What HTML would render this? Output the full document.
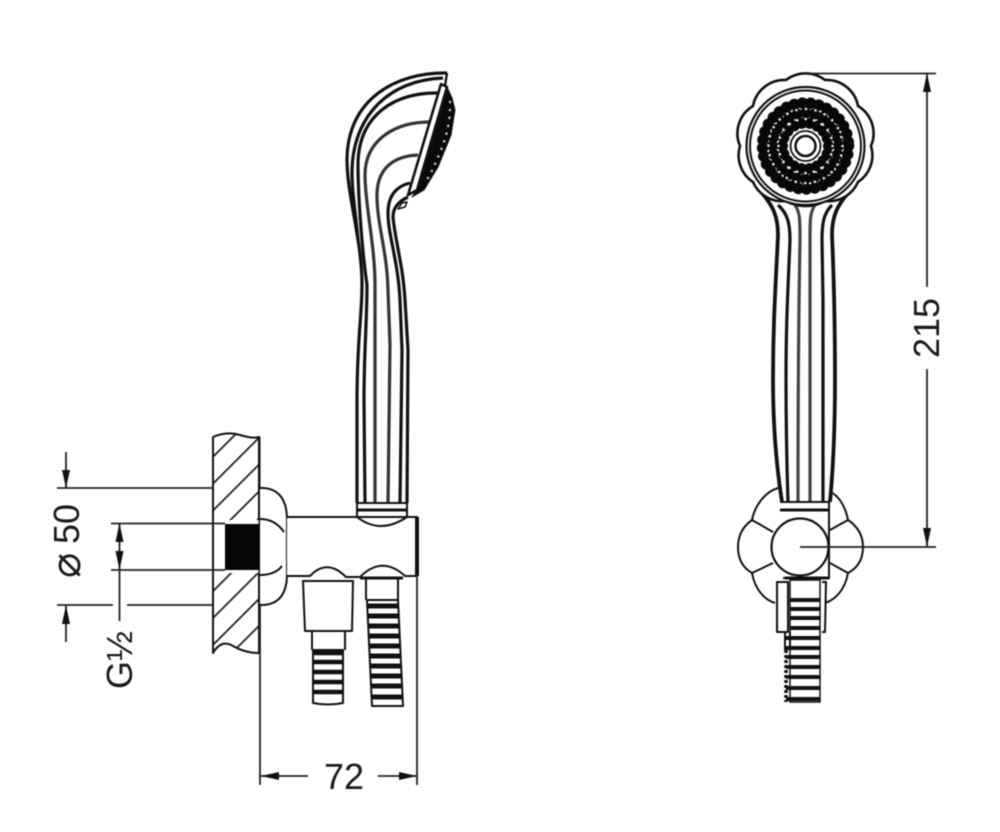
<!DOCTYPE html>
<html><head><meta charset="utf-8"><title>Hand shower with wall bracket</title>
<style>html,body{margin:0;padding:0;background:#fff}svg{display:block;filter:blur(.45px)}text{font-family:"Liberation Sans",sans-serif;font-size:36px;fill:#1a1a1a}</style></head>
<body>
<svg width="1000" height="832" viewBox="0 0 1000 832" xmlns="http://www.w3.org/2000/svg">
<defs>
<pattern id="h" width="19" height="19" patternUnits="userSpaceOnUse" patternTransform="rotate(45 217 436)"><rect width="1.8" height="19" fill="#222"/></pattern>
</defs>
<g fill="none" stroke="#111" stroke-width="2" stroke-linejoin="round">
<!-- wall -->
<path d="M213 437Q227 431 240 435T259 437V653Q245 653 233 646T213 653Z" fill="url(#h)"/>
<rect x="213.500" y="520" width="46" height="53" fill="#fff" stroke="none"/>
<path d="M213 437V653M259.500 437V653" stroke-width="2"/>
<rect x="225" y="524" width="35" height="46" fill="#050505" stroke="none"/>
<!-- flange -->
<path d="M260 488H264Q287 490 287 520V574Q287 603 264 605H260" fill="#fff"/>
<path d="M260 519Q275 519 284 532M260 575Q275 575 282 566"/>
<!-- body -->
<path d="M287 517H357Q380 535 407 517H417V576H405Q382 555 360 577H346Q327 558 310 576H287" fill="#fff"/>
<path d="M417 517V576" stroke-width="4"/>
<!-- side cone and hose -->
<path d="M303 581H353L352 631H305ZM312 631V650M345 631V650" fill="#fff"/>
<path d="M313 650H343V703Q328 706 313 703Z" fill="#fff"/>
<path d="M313 653H343M313 662H343M313 672H343M313 682H343M313 692H343" stroke-width="4.500"/>
<path d="M366 578V600M398 578V600" />
<path d="M367 600H398L403 706H372Z" fill="#fff"/>
<path d="M367 606H398M368 616H399M368 626H400M369 636H400M369 646H400M370 656H401M370 666H401M370 676H402M371 686H402M371 697H403" stroke-width="5"/>
<path d="M360 578H403" stroke-width="3"/>
<!-- side handle -->
<g stroke-width="3.200">
<path d="M447 73C395 72 347 100 347 160C347 195 362 240 362 285C362 315 357 340 357 400L357 503"/>
<path d="M443 78C390 80 352 115 352 173C352 195 356 215 358 240"/>
<path d="M438 93C395 92 358 115 358 165C358 195 362 250 367 285C367 320 364 350 364 400L365 503"/>
<path d="M430 122C395 122 365 140 365 175C365 205 375 245 375 285V503" stroke="#333"/>
<path d="M418 155C392 156 377 170 377 195C377 225 387 250 388 290L390 345L388 503" stroke="#333"/>
<path d="M410 183C397 186 388 195 388 213C388 235 398 260 400 300L402 350L400 503"/>
<path d="M408 197Q393 204 393 217C395 240 403 265 405 300L408 350L407 503"/>
<path d="M357 503H407V517H357Z" fill="#fff" stroke-width="2"/>
<path d="M357 510H407" stroke-width="3"/>
</g>
<path d="M447 73L445 86" stroke-width="2.400"/>
<path d="M398 209L402 203L407 202L405 207Z" stroke-width="1.500"/>
<path d="M446 85L452 98L455 110L451 135L438 167L424 190L412 197L418 188Z" fill="#0a0a0a" stroke-width="1"/>
<path d="M450 102Q451 125 441 150T424 184" stroke="#ccc" stroke-width="2.500" stroke-dasharray="0 8" stroke-linecap="round"/>
<path d="M441 84L447 87L417 190L408 195Z" fill="#fff" stroke-width="2.600"/>
<!-- front neck and handle -->
<g stroke-width="3.800">
<path d="M762 193C772 205 778 215 778 235C776 280 773 320 773 380C773 430 777 470 782 502"/>
<path d="M848 193C838 205 832 215 832 235C834 280 835 320 835 380C835 430 833 470 830 502"/>
</g>
<g stroke-width="3.200">
<path d="M778 205C787 213 790 222 790 240C788 290 786 320 786 380C786 430 787 470 788 502"/>
<path d="M832 205C824 213 822 222 822 240L823 300V502"/>
<path d="M795 205C800 212 800 220 800 240C799 300 798 340 798 502" stroke="#444"/>
<path d="M815 205C810 212 810 220 810 240V502" stroke="#444"/>
</g>
<!-- front head -->
<path d="M786 80A32 32 0 0 1 825 80A32 32 0 0 1 858 106A32 32 0 0 1 871 146A32 32 0 0 1 858 182A32 32 0 0 1 825 201A40 40 0 0 1 786 201A32 32 0 0 1 753 182A32 32 0 0 1 740 146A32 32 0 0 1 753 106A32 32 0 0 1 786 80Z" stroke-width="2.600" fill="#fff"/>
<circle cx="805.500" cy="146" r="59" fill="#fff" stroke-width="2.200"/>
<circle cx="805.500" cy="146" r="55.500" stroke-width="2"/>
<circle cx="805.500" cy="146" r="43" stroke="#080808" stroke-width="11.500" stroke-dasharray="0 8.300" stroke-linecap="round"/>
<circle cx="805.500" cy="146" r="33" stroke="#080808" stroke-width="11" stroke-dasharray="0 8.640" stroke-linecap="round"/>
<circle cx="805.500" cy="146" r="23" stroke="#080808" stroke-width="11" stroke-dasharray="0 8.030" stroke-linecap="round"/>
<circle cx="805.500" cy="146" r="37" stroke="#eee" stroke-width="2.600" stroke-dasharray="0 9.700" stroke-linecap="round"/>
<circle cx="805.500" cy="146" r="27" stroke="#eee" stroke-width="2.600" stroke-dasharray="0 8.480" stroke-linecap="round"/>
<circle cx="805.500" cy="146" r="15" fill="#fff" stroke-width="1.800"/>
<circle cx="805.500" cy="146" r="10" fill="#fff" stroke-width="2.500"/>
<!-- front bracket -->
<path d="M752 520C755 505 765 492 778 488M752 520Q738 530 738 547Q738 565 752 573M752 573C755 590 765 600 775 603M848 520C845 505 838 495 830 492M848 520Q863 530 863 547Q863 565 848 573M848 573C845 590 835 600 825 603"/>
<path d="M752 520L773 532M752 573L773 563M848 520L830 530M848 573L830 563"/>
<path d="M780 502H829V578H783" fill="#fff"/>
<path d="M780 510H829" stroke-width="3"/>
<rect x="790" y="580" width="30" height="122" fill="#fff" stroke-width="1.500"/>
<circle cx="800" cy="547" r="28.500" fill="#fff" stroke-width="2.200"/>
<path d="M785 578H829" stroke-width="3"/>
<path d="M777 582H788V632H777Z" fill="#fff"/>
<path d="M822 582L826 582L825 632H822" stroke-width="2"/>
<path d="M785 632V650M790 632V650"/>
<path d="M786 650V702" stroke-width="3.500" stroke-dasharray="3 2"/>
<path d="M790 600H820M790 609H820M790 618H820M790 628H820M786 638H820M786 648H820M786 657H820M786 667H820M786 677H820M786 688H820M786 699H820" stroke-width="4"/>
</g>
<!-- dimensions -->
<g stroke="#222" stroke-width="1.800" fill="none">
<path d="M57 488H213M111 523.500H225M111 570H225M57 605H113M127 605H213"/>
<path d="M66 452V488M66 605V642M119.500 523V621"/>
<path d="M260 605V785M417 577V785M261 776H308M378 776H417"/>
<path d="M810 73.500H936M800 547H936M927 73V287M927 369V547"/>
</g>
<g fill="#111">
<path d="M62 470H70L66 488ZM62 624H70L66 605ZM115.500 542H123.500L119.500 523ZM115.500 551H123.500L119.500 570Z"/>
<path d="M261 776L279 772V780ZM417 776L399 772V780Z"/>
<path d="M927 73L923 92H931ZM927 547L923 528H931Z"/>
</g>
<text x="344" y="789" text-anchor="middle">72</text>
<text transform="translate(939 358) rotate(-90)">215</text>
<text transform="translate(80 578) rotate(-90)" style="font-family:'DejaVu Sans',sans-serif;font-size:42px">⌀</text>
<text transform="translate(79 544) rotate(-90)">50</text>
<text transform="translate(132 689) rotate(-90)">G½</text>
</svg>
</body></html>
